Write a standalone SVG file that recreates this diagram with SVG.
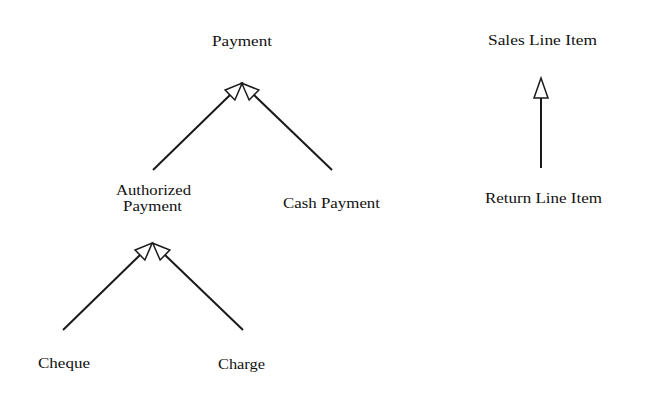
<svg xmlns="http://www.w3.org/2000/svg" width="645" height="405" viewBox="0 0 645 405">
<style>
  text { font-family: "Liberation Serif", "Times New Roman", serif; font-size: 14px; fill: #111; }
  .conn { stroke: #1a1a1a; stroke-width: 2; fill: none; }
</style>
<defs>
  <marker id="gen" markerUnits="userSpaceOnUse" markerWidth="24" markerHeight="20" viewBox="-2 -10 24 20" refX="0" refY="0" orient="auto">
    <path d="M0,-7 L17,0 L0,7 Z" fill="#fff" stroke="#1a1a1a" stroke-width="1.5" stroke-linejoin="miter"/>
  </marker>
  <marker id="genv" markerUnits="userSpaceOnUse" markerWidth="26" markerHeight="20" viewBox="-2 -10 26 20" refX="0" refY="0" orient="auto">
    <path d="M0,-7 L20,0 L0,7 Z" fill="#fff" stroke="#1a1a1a" stroke-width="1.5" stroke-linejoin="miter"/>
  </marker>
</defs>
<rect width="645" height="405" fill="#fff"/>
<g id="connectors">
  <line class="conn" x1="153" y1="170" x2="230" y2="95" marker-end="url(#gen)"/>
  <line class="conn" x1="332" y1="170" x2="254" y2="95" marker-end="url(#gen)"/>
  <line class="conn" x1="63" y1="330" x2="140" y2="255" marker-end="url(#gen)"/>
  <line class="conn" x1="243" y1="330" x2="165" y2="255" marker-end="url(#gen)"/>
  <line class="conn" x1="541" y1="168" x2="541" y2="98" marker-end="url(#genv)"/>
</g>
<g id="node-payment"><text x="212" y="46" textLength="60" lengthAdjust="spacingAndGlyphs">Payment</text></g>
<g id="node-authorized-payment">
  <text x="116" y="195" textLength="75" lengthAdjust="spacingAndGlyphs">Authorized</text>
  <text x="123" y="211" textLength="59" lengthAdjust="spacingAndGlyphs">Payment</text>
</g>
<g id="node-cash-payment"><text x="283" y="208" textLength="97" lengthAdjust="spacingAndGlyphs">Cash Payment</text></g>
<g id="node-cheque"><text x="38" y="368" textLength="52" lengthAdjust="spacingAndGlyphs">Cheque</text></g>
<g id="node-charge"><text x="218" y="369" textLength="47" lengthAdjust="spacingAndGlyphs">Charge</text></g>
<g id="node-sales-line-item"><text x="488" y="45" textLength="109" lengthAdjust="spacingAndGlyphs">Sales Line Item</text></g>
<g id="node-return-line-item"><text x="485" y="203" textLength="117" lengthAdjust="spacingAndGlyphs">Return Line Item</text></g>
</svg>
